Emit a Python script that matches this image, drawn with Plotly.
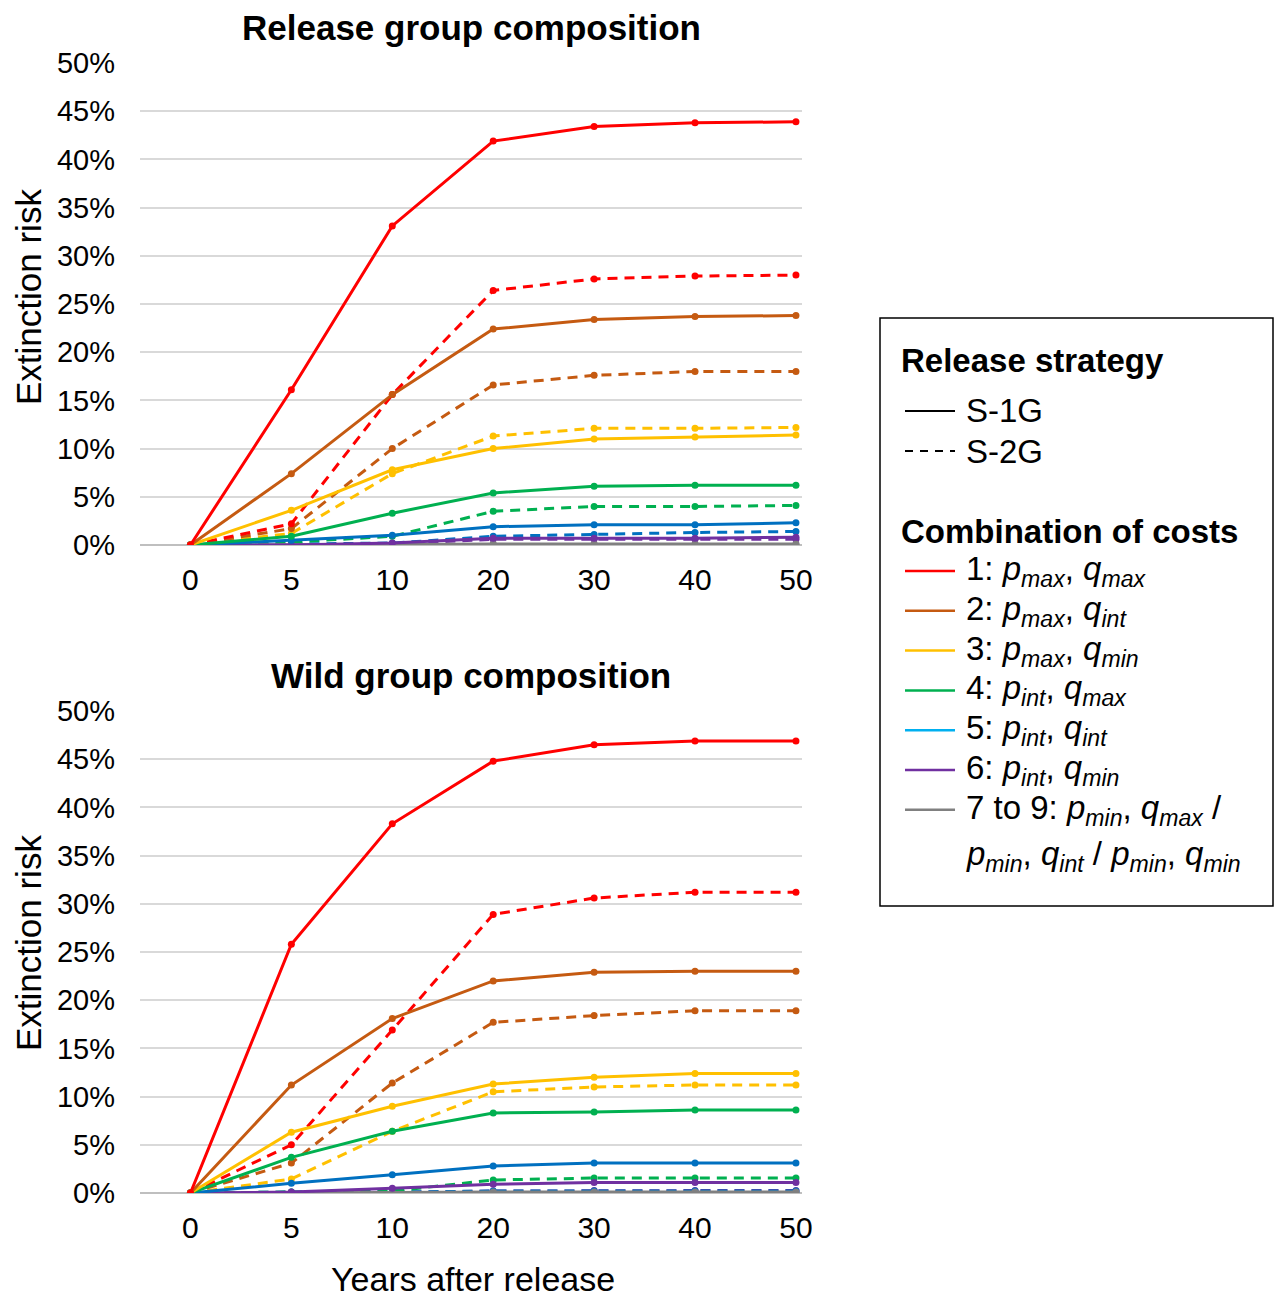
import plotly.graph_objects as go
from plotly.subplots import make_subplots

years = ["0", "5", "10", "20", "30", "40", "50"]

strategy_labels = ["S-1G", "S-2G"]
cost_labels = [
    "1: <i>p</i><sub><i>max</i></sub>, <i>q</i><sub><i>max</i></sub>",
    "2: <i>p</i><sub><i>max</i></sub>, <i>q</i><sub><i>int</i></sub>",
    "3: <i>p</i><sub><i>max</i></sub>, <i>q</i><sub><i>min</i></sub>",
    "4: <i>p</i><sub><i>int</i></sub>, <i>q</i><sub><i>max</i></sub>",
    "5: <i>p</i><sub><i>int</i></sub>, <i>q</i><sub><i>int</i></sub>",
    "6: <i>p</i><sub><i>int</i></sub>, <i>q</i><sub><i>min</i></sub>",
    "7 to 9: <i>p</i><sub><i>min</i></sub>, <i>q</i><sub><i>max</i></sub> /",
]
cost_label_extra = ("<i>p</i><sub><i>min</i></sub>, <i>q</i><sub><i>int</i></sub> / "
                    "<i>p</i><sub><i>min</i></sub>, <i>q</i><sub><i>min</i></sub>")
line_colors = ["#FF0000", "#C55A11", "#FFC000", "#00B050", "#0070C0", "#7030A0", "#808080"]
legend_colors = ["#FF0000", "#C55A11", "#FFC000", "#00B050", "#00B0F0", "#7030A0", "#808080"]

# Release group composition (extinction risk, %)
release_s1g = [
    [0, 16.1, 33.1, 41.9, 43.4, 43.8, 43.9],
    [0, 7.4, 15.6, 22.4, 23.4, 23.7, 23.8],
    [0, 3.6, 7.8, 10.0, 11.0, 11.2, 11.4],
    [0, 0.9, 3.3, 5.4, 6.1, 6.2, 6.2],
    [0, 0.5, 1.0, 1.9, 2.1, 2.1, 2.3],
    [0, 0.0, 0.2, 0.7, 0.7, 0.7, 0.8],
    [0, 0.0, 0.05, 0.1, 0.1, 0.1, 0.1],
]
release_s2g = [
    [0, 2.2, 15.6, 26.4, 27.6, 27.9, 28.0],
    [0, 1.7, 10.0, 16.6, 17.6, 18.0, 18.0],
    [0, 1.2, 7.4, 11.3, 12.1, 12.1, 12.2],
    [0, 0.3, 0.9, 3.5, 4.0, 4.0, 4.1],
    [0, 0.1, 0.2, 0.9, 1.1, 1.3, 1.4],
    [0, 0.0, 0.1, 0.6, 0.6, 0.6, 0.6],
    [0, 0.0, 0.0, 0.05, 0.05, 0.05, 0.05],
]

# Wild group composition (extinction risk, %)
wild_s1g = [
    [0, 25.8, 38.3, 44.8, 46.5, 46.9, 46.9],
    [0, 11.2, 18.1, 22.0, 22.9, 23.0, 23.0],
    [0, 6.3, 9.0, 11.3, 12.0, 12.4, 12.4],
    [0, 3.7, 6.4, 8.3, 8.4, 8.6, 8.6],
    [0, 1.0, 1.9, 2.8, 3.1, 3.1, 3.1],
    [0, 0.1, 0.5, 0.9, 1.1, 1.1, 1.1],
    [0, 0.0, 0.05, 0.1, 0.1, 0.1, 0.1],
]
wild_s2g = [
    [0, 5.0, 16.9, 28.9, 30.6, 31.2, 31.2],
    [0, 3.1, 11.4, 17.7, 18.4, 18.9, 18.9],
    [0, 1.45, 6.4, 10.5, 11.0, 11.2, 11.2],
    [0, 0.1, 0.2, 1.35, 1.55, 1.55, 1.55],
    [0, 0.1, 0.1, 0.2, 0.2, 0.2, 0.2],
    [0, 0.0, 0.05, 0.2, 0.25, 0.25, 0.25],
    [0, 0.0, 0.0, 0.05, 0.05, 0.05, 0.05],
]

y_ticks = [0, 5, 10, 15, 20, 25, 30, 35, 40, 45, 50]
y_tick_text = [f"{v}%" for v in y_ticks]

FONT = "Liberation Sans, Arial, sans-serif"
PAGE_PAD = 8                     # default body margin of the html page
W, H = 1282 - 2 * PAGE_PAD, 1309 - 2 * PAGE_PAD
L, R, T, B = 140 - PAGE_PAD, W - (802 - PAGE_PAD), 63 - PAGE_PAD, H - (1193 - PAGE_PAD)
DASH = "10px,7px"


def px(x):
    # screen x -> paper fraction
    return (x - PAGE_PAD - L) / (W - L - R)


def py(y):
    # screen y -> paper fraction
    return (H - B - (y - PAGE_PAD)) / (H - T - B)


fig = make_subplots(rows=2, cols=1, vertical_spacing=py(546) - py(712))

panels = [(1, release_s1g, release_s2g), (2, wild_s1g, wild_s2g)]
for row, s1g, s2g in panels:
    # dashed first so the solid lines sit on top
    for series, dash in [(s2g, DASH), (s1g, "solid")]:
        for vals, color in zip(series[::-1], line_colors[::-1]):
            fig.add_trace(go.Scatter(
                x=years, y=vals, mode="lines+markers",
                line=dict(color=color, width=3, dash=dash),
                marker=dict(color=color, size=7),
                showlegend=False, hoverinfo="skip",
            ), row=row, col=1)

for row in (1, 2):
    fig.update_xaxes(type="category", range=[-0.5, 6.06], showgrid=False,
                     showline=False, ticks="", ticklabelstandoff=14, automargin=False,
                     tickfont=dict(size=30, color="black"), row=row, col=1)
    fig.update_yaxes(range=[0, 50], tickvals=y_ticks, ticktext=y_tick_text,
                     gridcolor="#D9D9D9", gridwidth=1.5, zeroline=True,
                     zerolinecolor="#BFBFBF", zerolinewidth=1.5,
                     ticks="", ticklabelstandoff=24, automargin=False,
                     tickfont=dict(size=29, color="black"), row=row, col=1)

# titles
title_font = dict(size=35, color="black", family=FONT)
for text, y in [("<b>Release group composition</b>", 27), ("<b>Wild group composition</b>", 675)]:
    fig.add_annotation(text=text, xref="paper", yref="paper", x=px(471), y=py(y),
                       xanchor="center", yanchor="middle", showarrow=False, font=title_font)
for y in (297, 943):
    fig.add_annotation(text="Extinction risk", xref="paper", yref="paper", x=px(28), y=py(y),
                       textangle=-90, xanchor="center", yanchor="middle", showarrow=False,
                       font=title_font)
fig.add_annotation(text="Years after release", xref="paper", yref="paper", x=px(473), y=py(1279),
                   xanchor="center", yanchor="middle", showarrow=False,
                   font=dict(size=34, color="black", family=FONT))

# legend box (drawn by hand for the mixed headings and subscripts)
fig.add_shape(type="rect", xref="paper", yref="paper",
              x0=px(880), x1=px(1273), y0=py(906), y1=py(318),
              line=dict(color="black", width=1.5), fillcolor="white", layer="above")

leg_font = dict(size=33, color="black", family=FONT)


def legend_heading(text, y):
    fig.add_annotation(text=f"<b>{text}</b>", xref="paper", yref="paper", x=px(899), y=py(y),
                       xanchor="left", yanchor="middle", showarrow=False, font=leg_font)


def legend_item(text, color, y, dash="solid", width=2.5):
    fig.add_shape(type="line", xref="paper", yref="paper", x0=px(905), x1=px(955),
                  y0=py(y), y1=py(y), line=dict(color=color, width=width, dash=dash),
                  layer="above")
    fig.add_annotation(text=text, xref="paper", yref="paper", x=px(964), y=py(y),
                       xanchor="left", yanchor="middle", showarrow=False, font=leg_font)


legend_heading("Release strategy", 360)
for label, dash, y in zip(strategy_labels, ["solid", "8px,7px"], [411, 451]):
    legend_item(label, "black", y, dash=dash, width=2)

legend_heading("Combination of costs", 531)
for i, (label, color) in enumerate(zip(cost_labels, legend_colors)):
    legend_item(label, color, 571 + 39.8 * i)
fig.add_annotation(text=cost_label_extra, xref="paper", yref="paper", x=px(964), y=py(856),
                   xanchor="left", yanchor="middle", showarrow=False, font=leg_font)

fig.update_layout(
    width=W, height=H,
    margin=dict(l=L, r=R, t=T, b=B),
    plot_bgcolor="white", paper_bgcolor="white",
    font=dict(family=FONT, color="black", size=26),
    showlegend=False,
)

fig.write_html("out.html")
